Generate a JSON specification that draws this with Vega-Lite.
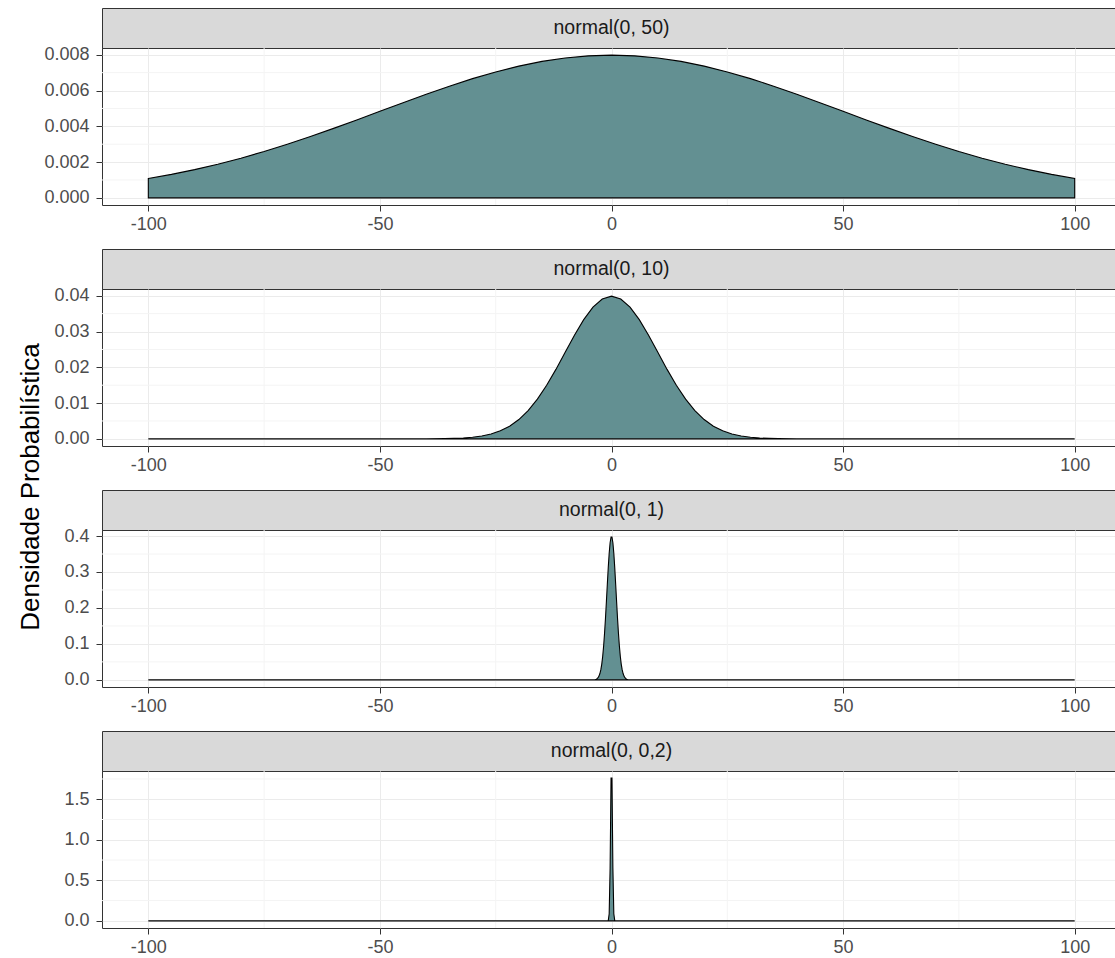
{
  "$schema": "https://vega.github.io/schema/vega-lite/v6.json",
  "padding": {"left": 18, "top": 7, "right": 0, "bottom": 0},
  "background": "white",
  "title": {
    "text": "Densidade Probabilística",
    "orient": "left",
    "anchor": "middle",
    "font": "Liberation Sans",
    "fontSize": 26,
    "fontWeight": "normal",
    "color": "#000000",
    "offset": -1,
    "dx": -5
  },
  "datasets": {
    "gridx": [{"v": -75}, {"v": -25}, {"v": 25}, {"v": 75}],
    "n50": [
      {"x": -100, "d": 0.001080}, {"x": -95, "d": 0.001312}, {"x": -90, "d": 0.001579}, {"x": -85, "d": 0.001881},
      {"x": -80, "d": 0.002218}, {"x": -75, "d": 0.002590}, {"x": -70, "d": 0.002995}, {"x": -65, "d": 0.003427},
      {"x": -60, "d": 0.003884}, {"x": -55, "d": 0.004357}, {"x": -50, "d": 0.004839}, {"x": -45, "d": 0.005322},
      {"x": -40, "d": 0.005794}, {"x": -35, "d": 0.006245}, {"x": -30, "d": 0.006665}, {"x": -25, "d": 0.007041},
      {"x": -20, "d": 0.007366}, {"x": -15, "d": 0.007628}, {"x": -10, "d": 0.007821}, {"x": -5, "d": 0.007939},
      {"x": 0, "d": 0.007979},
      {"x": 5, "d": 0.007939}, {"x": 10, "d": 0.007821}, {"x": 15, "d": 0.007628}, {"x": 20, "d": 0.007366},
      {"x": 25, "d": 0.007041}, {"x": 30, "d": 0.006665}, {"x": 35, "d": 0.006245}, {"x": 40, "d": 0.005794},
      {"x": 45, "d": 0.005322}, {"x": 50, "d": 0.004839}, {"x": 55, "d": 0.004357}, {"x": 60, "d": 0.003884},
      {"x": 65, "d": 0.003427}, {"x": 70, "d": 0.002995}, {"x": 75, "d": 0.002590}, {"x": 80, "d": 0.002218},
      {"x": 85, "d": 0.001881}, {"x": 90, "d": 0.001579}, {"x": 95, "d": 0.001312}, {"x": 100, "d": 0.001080}
    ],
    "n10": [
      {"x": -100, "d": 0}, {"x": -40, "d": 0.0000134}, {"x": -36, "d": 0.000061}, {"x": -34, "d": 0.000123},
      {"x": -32, "d": 0.000238}, {"x": -30, "d": 0.000443}, {"x": -28, "d": 0.000792}, {"x": -26, "d": 0.001358},
      {"x": -24, "d": 0.002239}, {"x": -22, "d": 0.003547}, {"x": -20, "d": 0.005399}, {"x": -18, "d": 0.007895},
      {"x": -16, "d": 0.011092}, {"x": -14, "d": 0.014973}, {"x": -12, "d": 0.019419}, {"x": -10, "d": 0.024197},
      {"x": -8, "d": 0.028969}, {"x": -6, "d": 0.033322}, {"x": -4, "d": 0.036827}, {"x": -2, "d": 0.039104},
      {"x": 0, "d": 0.039894},
      {"x": 2, "d": 0.039104}, {"x": 4, "d": 0.036827}, {"x": 6, "d": 0.033322}, {"x": 8, "d": 0.028969},
      {"x": 10, "d": 0.024197}, {"x": 12, "d": 0.019419}, {"x": 14, "d": 0.014973}, {"x": 16, "d": 0.011092},
      {"x": 18, "d": 0.007895}, {"x": 20, "d": 0.005399}, {"x": 22, "d": 0.003547}, {"x": 24, "d": 0.002239},
      {"x": 26, "d": 0.001358}, {"x": 28, "d": 0.000792}, {"x": 30, "d": 0.000443}, {"x": 32, "d": 0.000238},
      {"x": 34, "d": 0.000123}, {"x": 36, "d": 0.000061}, {"x": 40, "d": 0.0000134}, {"x": 100, "d": 0}
    ],
    "n1": [
      {"x": -100, "d": 0}, {"x": -4.5, "d": 0.000016}, {"x": -3.9, "d": 0.000199}, {"x": -3.5, "d": 0.000873},
      {"x": -3.3, "d": 0.001723}, {"x": -3.1, "d": 0.003267}, {"x": -2.9, "d": 0.005953}, {"x": -2.7, "d": 0.010421},
      {"x": -2.5, "d": 0.017528}, {"x": -2.3, "d": 0.028327}, {"x": -2.1, "d": 0.043984}, {"x": -1.9, "d": 0.065616},
      {"x": -1.7, "d": 0.094049}, {"x": -1.5, "d": 0.129518}, {"x": -1.3, "d": 0.171369}, {"x": -1.1, "d": 0.217852},
      {"x": -0.9, "d": 0.266085}, {"x": -0.7, "d": 0.312254}, {"x": -0.5, "d": 0.352065}, {"x": -0.3, "d": 0.381388},
      {"x": -0.1, "d": 0.396953},
      {"x": 0.1, "d": 0.396953}, {"x": 0.3, "d": 0.381388}, {"x": 0.5, "d": 0.352065}, {"x": 0.7, "d": 0.312254},
      {"x": 0.9, "d": 0.266085}, {"x": 1.1, "d": 0.217852}, {"x": 1.3, "d": 0.171369}, {"x": 1.5, "d": 0.129518},
      {"x": 1.7, "d": 0.094049}, {"x": 1.9, "d": 0.065616}, {"x": 2.1, "d": 0.043984}, {"x": 2.3, "d": 0.028327},
      {"x": 2.5, "d": 0.017528}, {"x": 2.7, "d": 0.010421}, {"x": 2.9, "d": 0.005953}, {"x": 3.1, "d": 0.003267},
      {"x": 3.3, "d": 0.001723}, {"x": 3.5, "d": 0.000873}, {"x": 3.9, "d": 0.000199}, {"x": 4.5, "d": 0.000016},
      {"x": 100, "d": 0}
    ],
    "n02": [
      {"x": -100, "d": 0}, {"x": -0.9, "d": 0.0000799}, {"x": -0.7, "d": 0.004363}, {"x": -0.5, "d": 0.087642},
      {"x": -0.3, "d": 0.647588}, {"x": -0.1, "d": 1.760327},
      {"x": 0.1, "d": 1.760327}, {"x": 0.3, "d": 0.647588}, {"x": 0.5, "d": 0.087642}, {"x": 0.7, "d": 0.004363},
      {"x": 0.9, "d": 0.0000799}, {"x": 100, "d": 0}
    ]
  },
  "vconcat": [
    {
      "spacing": 0,
      "bounds": "flush",
      "vconcat": [
        {
          "width": 1019, "height": 40,
          "view": {"fill": "#D9D9D9", "stroke": "#333333"},
          "data": {"values": [{"label": "normal(0, 50)"}]},
          "mark": {"type": "text", "font": "Liberation Sans", "fontSize": 19.5, "color": "#1A1A1A"},
          "encoding": {"text": {"field": "label"}}
        },
        {
          "width": 1019, "height": 157,
          "layer": [
            {
              "data": {"name": "gridx"},
              "mark": {"type": "rule", "color": "#F4F4F4", "strokeWidth": 1},
              "encoding": {"x": {"field": "v", "type": "quantitative", "title": null,
                "scale": {"domain": [-110, 110], "nice": false, "zero": false},
                "axis": {"values": [-100, -50, 0, 50, 100], "labelExpr": "'' + datum.value"}}}
            },
            {
              "data": {"values": [{"v": 0.001}, {"v": 0.003}, {"v": 0.005}, {"v": 0.007}]},
              "mark": {"type": "rule", "color": "#F4F4F4", "strokeWidth": 1},
              "encoding": {"y": {"field": "v", "type": "quantitative", "title": null,
                "scale": {"domain": [-0.000399, 0.008378], "nice": false, "zero": false},
                "axis": {"values": [0, 0.002, 0.004, 0.006, 0.008], "format": ".3f"}}}
            },
            {
              "data": {"name": "n50"},
              "mark": {"type": "area", "fill": "#639092", "stroke": "#000000", "strokeWidth": 1.1},
              "encoding": {
                "x": {"field": "x", "type": "quantitative", "title": null,
                      "scale": {"domain": [-110, 110], "nice": false, "zero": false},
                      "axis": {"values": [-100, -50, 0, 50, 100], "labelExpr": "'' + datum.value"}},
                "y": {"field": "d", "type": "quantitative", "title": null,
                      "scale": {"domain": [-0.000399, 0.008378], "nice": false, "zero": false},
                      "axis": {"values": [0, 0.002, 0.004, 0.006, 0.008], "format": ".3f"}}
              }
            }
          ]
        }
      ]
    },
    {
      "spacing": 0,
      "bounds": "flush",
      "vconcat": [
        {
          "width": 1019, "height": 40,
          "view": {"fill": "#D9D9D9", "stroke": "#333333"},
          "data": {"values": [{"label": "normal(0, 10)"}]},
          "mark": {"type": "text", "font": "Liberation Sans", "fontSize": 19.5, "color": "#1A1A1A"},
          "encoding": {"text": {"field": "label"}}
        },
        {
          "width": 1019, "height": 157,
          "layer": [
            {
              "data": {"name": "gridx"},
              "mark": {"type": "rule", "color": "#F4F4F4", "strokeWidth": 1},
              "encoding": {"x": {"field": "v", "type": "quantitative", "title": null,
                "scale": {"domain": [-110, 110], "nice": false, "zero": false},
                "axis": {"values": [-100, -50, 0, 50, 100], "labelExpr": "'' + datum.value"}}}
            },
            {
              "data": {"values": [{"v": 0.005}, {"v": 0.015}, {"v": 0.025}, {"v": 0.035}]},
              "mark": {"type": "rule", "color": "#F4F4F4", "strokeWidth": 1},
              "encoding": {"y": {"field": "v", "type": "quantitative", "title": null,
                "scale": {"domain": [-0.001995, 0.041889], "nice": false, "zero": false},
                "axis": {"values": [0, 0.01, 0.02, 0.03, 0.04], "format": ".2f"}}}
            },
            {
              "data": {"name": "n10"},
              "mark": {"type": "area", "fill": "#639092", "stroke": "#000000", "strokeWidth": 1.1},
              "encoding": {
                "x": {"field": "x", "type": "quantitative", "title": null,
                      "scale": {"domain": [-110, 110], "nice": false, "zero": false},
                      "axis": {"values": [-100, -50, 0, 50, 100], "labelExpr": "'' + datum.value"}},
                "y": {"field": "d", "type": "quantitative", "title": null,
                      "scale": {"domain": [-0.001995, 0.041889], "nice": false, "zero": false},
                      "axis": {"values": [0, 0.01, 0.02, 0.03, 0.04], "format": ".2f"}}
              }
            }
          ]
        }
      ]
    },
    {
      "spacing": 0,
      "bounds": "flush",
      "vconcat": [
        {
          "width": 1019, "height": 40,
          "view": {"fill": "#D9D9D9", "stroke": "#333333"},
          "data": {"values": [{"label": "normal(0, 1)"}]},
          "mark": {"type": "text", "font": "Liberation Sans", "fontSize": 19.5, "color": "#1A1A1A"},
          "encoding": {"text": {"field": "label"}}
        },
        {
          "width": 1019, "height": 157,
          "layer": [
            {
              "data": {"name": "gridx"},
              "mark": {"type": "rule", "color": "#F4F4F4", "strokeWidth": 1},
              "encoding": {"x": {"field": "v", "type": "quantitative", "title": null,
                "scale": {"domain": [-110, 110], "nice": false, "zero": false},
                "axis": {"values": [-100, -50, 0, 50, 100], "labelExpr": "'' + datum.value"}}}
            },
            {
              "data": {"values": [{"v": 0.05}, {"v": 0.15}, {"v": 0.25}, {"v": 0.35}]},
              "mark": {"type": "rule", "color": "#F4F4F4", "strokeWidth": 1},
              "encoding": {"y": {"field": "v", "type": "quantitative", "title": null,
                "scale": {"domain": [-0.019848, 0.416801], "nice": false, "zero": false},
                "axis": {"values": [0, 0.1, 0.2, 0.3, 0.4], "format": ".1f"}}}
            },
            {
              "data": {"name": "n1"},
              "mark": {"type": "area", "fill": "#639092", "stroke": "#000000", "strokeWidth": 1.1},
              "encoding": {
                "x": {"field": "x", "type": "quantitative", "title": null,
                      "scale": {"domain": [-110, 110], "nice": false, "zero": false},
                      "axis": {"values": [-100, -50, 0, 50, 100], "labelExpr": "'' + datum.value"}},
                "y": {"field": "d", "type": "quantitative", "title": null,
                      "scale": {"domain": [-0.019848, 0.416801], "nice": false, "zero": false},
                      "axis": {"values": [0, 0.1, 0.2, 0.3, 0.4], "format": ".1f"}}
              }
            }
          ]
        }
      ]
    },
    {
      "spacing": 0,
      "bounds": "flush",
      "vconcat": [
        {
          "width": 1019, "height": 40,
          "view": {"fill": "#D9D9D9", "stroke": "#333333"},
          "data": {"values": [{"label": "normal(0, 0,2)"}]},
          "mark": {"type": "text", "font": "Liberation Sans", "fontSize": 19.5, "color": "#1A1A1A"},
          "encoding": {"text": {"field": "label"}}
        },
        {
          "width": 1019, "height": 157,
          "layer": [
            {
              "data": {"name": "gridx"},
              "mark": {"type": "rule", "color": "#F4F4F4", "strokeWidth": 1},
              "encoding": {"x": {"field": "v", "type": "quantitative", "title": null,
                "scale": {"domain": [-110, 110], "nice": false, "zero": false},
                "axis": {"values": [-100, -50, 0, 50, 100], "labelExpr": "'' + datum.value"}}}
            },
            {
              "data": {"values": [{"v": 0.25}, {"v": 0.75}, {"v": 1.25}, {"v": 1.75}]},
              "mark": {"type": "rule", "color": "#F4F4F4", "strokeWidth": 1},
              "encoding": {"y": {"field": "v", "type": "quantitative", "title": null,
                "scale": {"domain": [-0.088016, 1.848343], "nice": false, "zero": false},
                "axis": {"values": [0, 0.5, 1, 1.5], "format": ".1f"}}}
            },
            {
              "data": {"name": "n02"},
              "mark": {"type": "area", "fill": "#639092", "stroke": "#000000", "strokeWidth": 1.1},
              "encoding": {
                "x": {"field": "x", "type": "quantitative", "title": null,
                      "scale": {"domain": [-110, 110], "nice": false, "zero": false},
                      "axis": {"values": [-100, -50, 0, 50, 100], "labelExpr": "'' + datum.value"}},
                "y": {"field": "d", "type": "quantitative", "title": null,
                      "scale": {"domain": [-0.088016, 1.848343], "nice": false, "zero": false},
                      "axis": {"values": [0, 0.5, 1, 1.5], "format": ".1f"}}
              }
            }
          ]
        }
      ]
    }
  ],
  "spacing": 14,
  "resolve": {"scale": {"x": "independent", "y": "independent"}},
  "config": {
    "view": {"stroke": "#333333", "strokeWidth": 1},
    "axis": {
      "labelFont": "Liberation Sans",
      "labelFontSize": 18,
      "labelColor": "#4D4D4D",
      "labelFlush": false,
      "tickColor": "#333333",
      "tickSize": 6,
      "tickWidth": 1,
      "domain": false,
      "grid": true,
      "gridColor": "#EBEBEB",
      "gridWidth": 1
    },
    "axisX": {"labelPadding": 4},
    "axisY": {"labelPadding": 7}
  }
}
